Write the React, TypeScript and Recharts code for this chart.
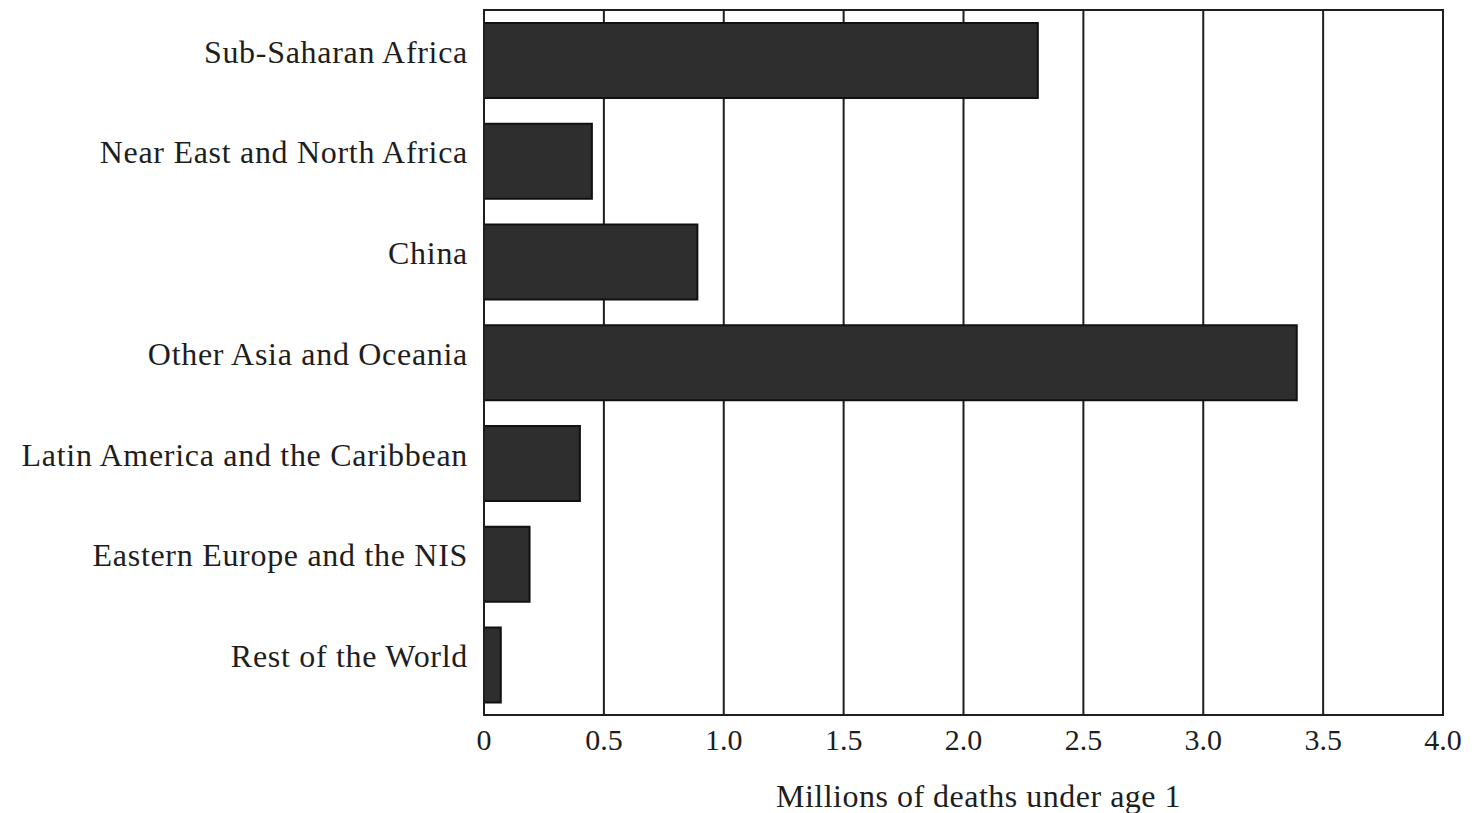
/** Infant deaths by region — horizontal bar chart (recharts) */
import {
  BarChart,
  Bar,
  XAxis,
  YAxis,
  CartesianGrid,
  ReferenceArea,
} from 'recharts';

const REGIONS = [
  'Sub-Saharan Africa',
  'Near East and North Africa',
  'China',
  'Other Asia and Oceania',
  'Latin America and the Caribbean',
  'Eastern Europe and the NIS',
  'Rest of the World',
];
const DEATHS = [2.31, 0.45, 0.89, 3.39, 0.4, 0.19, 0.07];
const X_TICKS = [0, 0.5, 1.0, 1.5, 2.0, 2.5, 3.0, 3.5, 4.0];

const INK = '#1e1e1e';
const BAR = '#2e2e2e';
const FONT = '"Liberation Serif", "DejaVu Serif", serif';

const data = REGIONS.map((region, i) => ({ region, deaths: DEATHS[i] }));

export default function App() {
  return (
    <div style={{ position: 'absolute', left: 0, top: 0, background: '#fff' }}>
      <BarChart
        width={1474}
        height={813}
        data={data}
        layout="vertical"
        barCategoryGap="13%"
        margin={{ top: 10, right: 31, bottom: 0, left: 0 }}
      >
        <CartesianGrid horizontal={false} stroke={INK} strokeWidth={2} />
        <ReferenceArea x1={0} x2={4} fill="none" stroke={INK} strokeWidth={2} ifOverflow="extendDomain" />
        <XAxis
          type="number"
          domain={[0, 4]}
          ticks={X_TICKS}
          tickFormatter={(v: number) => (v === 0 ? '0' : v.toFixed(1))}
          tickLine={false}
          axisLine={{ stroke: INK, strokeWidth: 2 }}
          tick={{ fill: INK, fontSize: 30, fontFamily: FONT }}
          tickMargin={8}
          height={98}
          label={{
            value: 'Millions of deaths under age 1',
            position: 'insideBottom',
            offset: 6,
            dx: 15,
            fill: INK,
            fontSize: 32,
            fontFamily: FONT,
            letterSpacing: 0.5,
          }}
        />
        <YAxis
          type="category"
          dataKey="region"
          width={484}
          tickLine={false}
          axisLine={{ stroke: INK, strokeWidth: 2 }}
          tick={{ fill: INK, fontSize: 32, fontFamily: FONT, letterSpacing: 0.7, dy: -9 }}
          tickMargin={10}
        />
        <Bar
          dataKey="deaths"
          fill={BAR}
          stroke="#111"
          strokeWidth={2}
          isAnimationActive={false}
        />
      </BarChart>
    </div>
  );
}
